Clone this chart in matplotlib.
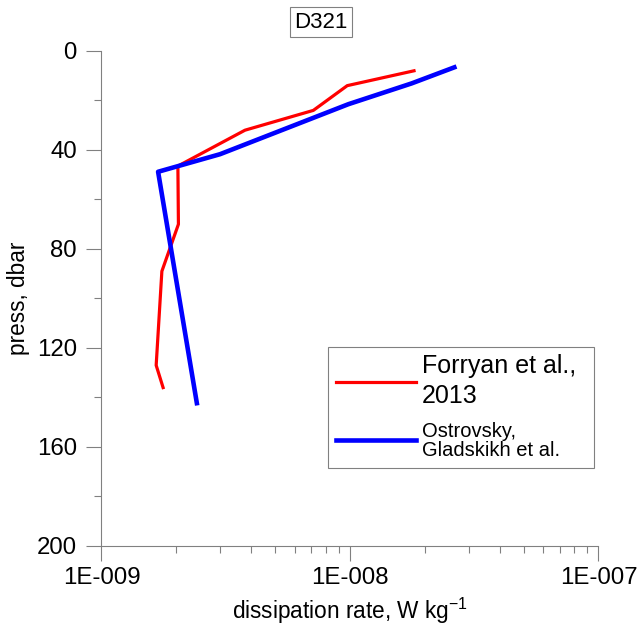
import numpy as np
import matplotlib
matplotlib.use("Agg")
import matplotlib.pyplot as plt
from matplotlib.ticker import FixedLocator, NullFormatter, FuncFormatter

plt.rcParams['font.family'] = ['Liberation Sans', 'DejaVu Sans']
plt.rcParams['mathtext.fontset'] = 'custom'
plt.rcParams['mathtext.rm'] = 'Liberation Sans'
plt.rcParams['mathtext.default'] = 'regular'

# Forryan et al., 2013 profile
forryan_eps = [1.81e-8, 9.75e-9, 7.12e-9, 3.78e-9, 2.03e-9, 2.04e-9, 1.75e-9, 1.66e-9, 1.77e-9]
forryan_p = [8, 14, 24, 32, 46.5, 70, 89, 127, 136]

# Ostrovsky, Gladskikh et al. profile
ostr_eps = [2.63e-8, 1.77e-8, 9.85e-9, 3.0e-9, 1.69e-9, 2.42e-9]
ostr_p = [6.6, 13.1, 21.5, 41.7, 48.8, 142.3]

station = "D321"
legend_labels = ["Forryan et al.,\n2013", "Ostrovsky,\nGladskikh et al."]
decades = [1e-9, 1e-8, 1e-7]

fig = plt.figure(figsize=(6.39, 6.28), dpi=100)
ax = fig.add_axes([0.1588, 0.1306, 0.7778, 0.7882])

ax.plot(forryan_eps, forryan_p, color='#ff0000', lw=2.3, label=legend_labels[0])
ax.plot(ostr_eps, ostr_p, color='#0000ff', lw=3.3, label=legend_labels[1])

ax.set_xscale('log')
ax.set_xlim(decades[0], decades[-1])
ax.set_ylim(200, 0)

minor_x = [m * d for d in decades[:-1] for m in range(2, 10)]
ax.xaxis.set_major_locator(FixedLocator(decades))
ax.xaxis.set_minor_locator(FixedLocator(minor_x))
ax.xaxis.set_minor_formatter(NullFormatter())
ax.xaxis.set_major_formatter(FuncFormatter(lambda v, pos: f"1E{int(round(np.log10(v))):+04d}"))
ax.yaxis.set_major_locator(FixedLocator(np.arange(0, 201, 40)))
ax.yaxis.set_minor_locator(FixedLocator(np.arange(20, 200, 40)))

for side in ['top', 'right']:
    ax.spines[side].set_visible(False)
for side in ['left', 'bottom']:
    ax.spines[side].set_color('#808080')
    ax.spines[side].set_linewidth(0.8)

ax.tick_params(which='both', direction='out', color='#808080', width=0.8, labelsize=17.3)
ax.tick_params(which='major', length=10.8)
ax.tick_params(which='minor', length=5.2)
ax.tick_params(axis='x', which='major', pad=4)
ax.tick_params(axis='y', which='major', pad=7)

ax.set_xlabel("dissipation rate, W kg$^{-1}$", fontsize=16.3, labelpad=5.5)
ax.set_ylabel("press, dbar", fontsize=16.3, labelpad=5)

fig.text(321 / 639, 1 - 22 / 628, station, ha='center', va='center', fontsize=16,
         bbox=dict(boxstyle='square,pad=0.2', fc='white', ec='#808080', lw=0.8))

leg = ax.legend(loc='upper left', bbox_to_anchor=(0.4563, 0.155, 0.5346, 0.2475),
                mode='expand', fontsize=18, frameon=True, fancybox=False,
                edgecolor='#808080', framealpha=1, handlelength=3.2,
                handletextpad=0.25, borderpad=0.3, labelspacing=0.55,
                borderaxespad=0)
leg.get_frame().set_linewidth(0.8)
texts = leg.get_texts()
texts[0].set_linespacing(1.3)
texts[1].set_fontsize(14.5)
texts[1].set_linespacing(1.05)

fig.savefig("out.png", dpi=100)
